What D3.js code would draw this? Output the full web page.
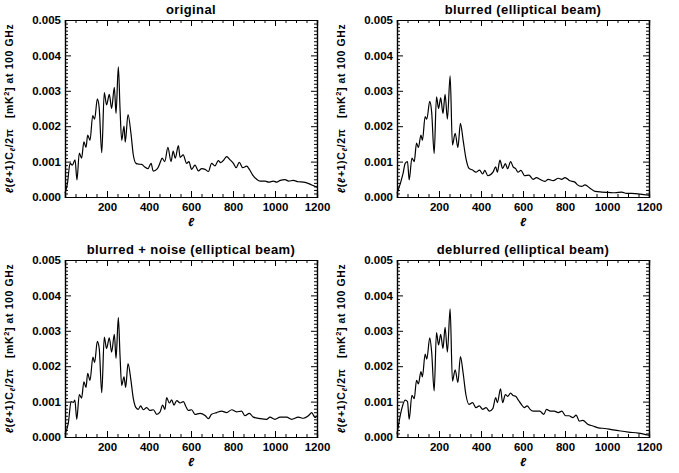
<!DOCTYPE html>
<html>
<head>
<meta charset="utf-8">
<script src="https://cdn.jsdelivr.net/npm/d3@7"></script>
<style>
  body { margin: 0; background: #fff; }
  text { font-family: "Liberation Sans", Arial, sans-serif; font-weight: bold; fill: #000; }
</style>
</head>
<body>
<div id="chart"></div>
<script>
// panel titles
var titles = ['original', 'blurred (elliptical beam)', 'blurred + noise (elliptical beam)', 'deblurred (elliptical beam)'];

// original spectrum
var ellOriginal = [0, 12, 24, 35, 48, 57, 68, 79, 90, 100, 108, 119, 132, 141, 154, 163, 175, 187, 198, 211, 222, 235, 243, 254, 262, 270, 281, 287, 300, 314, 325, 338, 350, 365, 380, 395, 410, 420, 440, 455, 462, 475, 490, 505, 515, 525, 540, 548, 563, 579, 590, 603, 619, 635, 651, 667, 683, 698, 714, 730, 741, 754, 770, 786, 802, 815, 830, 846, 865, 878, 894, 913, 929, 953, 970, 992, 1008, 1025, 1048, 1065, 1087, 1111, 1135, 1151, 1175, 1200];
var clOriginal = [0.0001, 0.0004, 0.00095, 0.0009, 0.00105, 0.00048, 0.00124, 0.0011, 0.00156, 0.0014, 0.00175, 0.0016, 0.0023, 0.0022, 0.00277, 0.0025, 0.00125, 0.00295, 0.0026, 0.0029, 0.0025, 0.0031, 0.00236, 0.00368, 0.0025, 0.0016, 0.002, 0.00155, 0.00233, 0.0018, 0.0012, 0.00095, 0.00093, 0.00092, 0.00085, 0.0008, 0.00095, 0.00073, 0.0008, 0.001, 0.0011, 0.001, 0.0014, 0.001, 0.0013, 0.0011, 0.00145, 0.00112, 0.00119, 0.00095, 0.001, 0.00078, 0.0009, 0.00074, 0.0008, 0.00078, 0.00072, 0.00095, 0.00088, 0.00103, 0.00097, 0.00103, 0.00114, 0.00105, 0.00095, 0.00083, 0.00098, 0.00083, 0.00087, 0.00078, 0.00062, 0.0005, 0.00045, 0.00045, 0.00042, 0.00045, 0.00042, 0.00047, 0.00049, 0.00045, 0.00047, 0.00043, 0.00042, 0.0004, 0.00034, 0.00028];

// blurred spectrum
var ellBlurred = [0, 29, 39, 50, 58, 71, 82, 93, 102, 114, 121, 134, 142, 156, 165, 177, 188, 198, 208, 219, 229, 240, 253, 264, 277, 290, 302, 315, 328, 343, 360, 376, 393, 408, 418, 433, 457, 470, 478, 490, 503, 516, 527, 541, 553, 565, 576, 590, 608, 628, 648, 664, 680, 704, 720, 744, 768, 784, 800, 823, 847, 858, 879, 895, 919, 943, 975, 1006, 1038, 1070, 1093, 1118, 1158, 1200];
var clBlurred = [0.0001, 0.00067, 0.00095, 0.001, 0.00048, 0.0011, 0.001, 0.00152, 0.0014, 0.00175, 0.0016, 0.00227, 0.0022, 0.0027, 0.0024, 0.00123, 0.00283, 0.0025, 0.0028, 0.00236, 0.0029, 0.0022, 0.00342, 0.00147, 0.0018, 0.0014, 0.00208, 0.0016, 0.0011, 0.00081, 0.00076, 0.0007, 0.00076, 0.00065, 0.00075, 0.0006, 0.0007, 0.00085, 0.0007, 0.00104, 0.00081, 0.00094, 0.0008, 0.001, 0.00085, 0.0008, 0.0007, 0.00075, 0.0006, 0.00062, 0.0005, 0.00055, 0.0005, 0.00044, 0.0005, 0.00046, 0.00053, 0.0005, 0.00055, 0.00046, 0.00042, 0.00035, 0.0003, 0.00034, 0.00025, 0.00016, 0.00014, 0.00013, 0.00012, 0.00014, 0.0001, 0.0001, 0.00008, 0.00005];

// blurred + noise spectrum
var ellNoisy = [0, 16, 29, 40, 47, 56, 68, 79, 90, 100, 108, 119, 133, 141, 154, 163, 175, 187, 198, 211, 222, 235, 243, 254, 262, 270, 281, 289, 300, 314, 325, 338, 349, 360, 373, 389, 405, 421, 437, 452, 465, 476, 484, 497, 508, 519, 532, 548, 564, 575, 587, 603, 619, 643, 667, 683, 698, 722, 746, 770, 794, 817, 841, 857, 878, 897, 929, 960, 976, 1000, 1024, 1056, 1079, 1111, 1135, 1159, 1175, 1190, 1200];
var clNoisy = [0.00008, 0.0004, 0.001, 0.00098, 0.00104, 0.0005, 0.0012, 0.0011, 0.00156, 0.0014, 0.0018, 0.0016, 0.00226, 0.0021, 0.0027, 0.0025, 0.00125, 0.00282, 0.0025, 0.0028, 0.0024, 0.0029, 0.00222, 0.00337, 0.0023, 0.00146, 0.0017, 0.0014, 0.00207, 0.0016, 0.0011, 0.00083, 0.00078, 0.00088, 0.00077, 0.00083, 0.00075, 0.00077, 0.00064, 0.0007, 0.0009, 0.00078, 0.00111, 0.00096, 0.00105, 0.0009, 0.00103, 0.00096, 0.001, 0.00087, 0.00075, 0.00077, 0.00064, 0.00067, 0.00061, 0.00052, 0.00064, 0.00069, 0.00073, 0.00069, 0.00077, 0.00071, 0.00073, 0.0006, 0.00067, 0.00056, 0.00052, 0.0005, 0.00056, 0.0005, 0.00056, 0.00056, 0.0005, 0.00056, 0.00053, 0.0006, 0.00069, 0.00055, 0.0006];

// deblurred spectrum
var ellDeblurred = [0, 22, 39, 50, 58, 71, 82, 93, 102, 114, 121, 134, 142, 156, 165, 177, 188, 198, 208, 219, 229, 240, 253, 264, 277, 290, 302, 315, 328, 343, 360, 376, 392, 408, 424, 440, 456, 470, 478, 493, 503, 516, 527, 541, 553, 565, 578, 592, 606, 620, 634, 648, 680, 699, 712, 730, 749, 768, 785, 803, 819, 838, 853, 868, 885, 908, 933, 958, 989, 1021, 1054, 1102, 1149, 1200];
var clDeblurred = [0.00008, 0.00078, 0.00104, 0.001, 0.0005, 0.00118, 0.00108, 0.0016, 0.0015, 0.00185, 0.0017, 0.00234, 0.0022, 0.0028, 0.0024, 0.0013, 0.00295, 0.0026, 0.0029, 0.0025, 0.0031, 0.0024, 0.00362, 0.00158, 0.0019, 0.00154, 0.00227, 0.0018, 0.0012, 0.00092, 0.00097, 0.00083, 0.00088, 0.00078, 0.00083, 0.00073, 0.0008, 0.00111, 0.00097, 0.00136, 0.00097, 0.0012, 0.00115, 0.00124, 0.00117, 0.00115, 0.00104, 0.00092, 0.00083, 0.00088, 0.00078, 0.00073, 0.00073, 0.00064, 0.00078, 0.00073, 0.00073, 0.00069, 0.00073, 0.0006, 0.0006, 0.00055, 0.00062, 0.00045, 0.00047, 0.00036, 0.00031, 0.00026, 0.00024, 0.00021, 0.00018, 0.00014, 0.00011, 0.00005];

// tick values
var xMajorTicks = [200, 400, 600, 800, 1000, 1200];
var yMajorTicks = [0, 0.001, 0.002, 0.003, 0.004, 0.005];

var svgWidth = 679;
var svgHeight = 473;

// plot box size
var width = 252;
var height = 177;

var svg = d3.select('#chart')
  .append('svg')
  .attr('width', svgWidth)
  .attr('height', svgHeight);

var panels = [
  { title: titles[0], ell: ellOriginal, cl: clOriginal, left: 65, top: 20 },
  { title: titles[1], ell: ellBlurred, cl: clBlurred, left: 397, top: 20 },
  { title: titles[2], ell: ellNoisy, cl: clNoisy, left: 65, top: 260 },
  { title: titles[3], ell: ellDeblurred, cl: clDeblurred, left: 397, top: 260 }
];

var xScale = d3.scaleLinear().domain([0, 1200]).range([0, width]);
var yScale = d3.scaleLinear().domain([0, 0.005]).range([height, 0]);

// minor ticks
var xMinorTicks = d3.range(50, 1200, 50).filter(function (d) { return d % 200 !== 0; });
var yMinorTicks = d3.range(1, 50).filter(function (d) { return d % 10 !== 0; }).map(function (d) { return d / 10000; });

panels.forEach(function (p) {
  var g = svg.append('g').attr('transform', 'translate(' + p.left + ',' + p.top + ')');

  // title
  g.append('text')
    .attr('x', width / 2)
    .attr('y', -6)
    .attr('text-anchor', 'middle')
    .style('font-size', '13px')
    .style('letter-spacing', '0.4px')
    .text(p.title);

  // axes on four sides, ticks inward
  g.append('g').attr('transform', 'translate(0,' + height + ')')
    .call(d3.axisBottom(xScale).tickValues(xMajorTicks).tickSize(-6).tickPadding(6).tickFormat(d3.format('d')));
  g.append('g').attr('transform', 'translate(0,' + height + ')')
    .call(d3.axisBottom(xScale).tickValues(xMinorTicks).tickSize(-3).tickFormat(''));
  g.append('g')
    .call(d3.axisTop(xScale).tickValues(xMajorTicks).tickSize(-6).tickFormat(''));
  g.append('g')
    .call(d3.axisTop(xScale).tickValues(xMinorTicks).tickSize(-3).tickFormat(''));

  g.append('g')
    .call(d3.axisLeft(yScale).tickValues(yMajorTicks).tickSize(-6).tickPadding(4).tickFormat(d3.format('.3f')));
  g.append('g')
    .call(d3.axisLeft(yScale).tickValues(yMinorTicks).tickSize(-3).tickFormat(''));
  g.append('g').attr('transform', 'translate(' + width + ',0)')
    .call(d3.axisRight(yScale).tickValues(yMajorTicks).tickSize(-6).tickFormat(''));
  g.append('g').attr('transform', 'translate(' + width + ',0)')
    .call(d3.axisRight(yScale).tickValues(yMinorTicks).tickSize(-3).tickFormat(''));

  g.selectAll('.domain').attr('stroke', '#000').attr('stroke-width', 1.2);
  g.selectAll('.tick line').attr('stroke', '#000');
  g.selectAll('.tick text')
    .style('font-size', '11.5px')
    .style('font-family', '"Liberation Sans", Arial, sans-serif')
    .style('font-weight', 'bold');

  // x label
  g.append('text')
    .attr('x', width / 2)
    .attr('y', height + 29)
    .attr('text-anchor', 'middle')
    .style('font-size', '12px')
    .style('font-style', 'italic')
    .text('\u2113');

  // y label
  var yl = g.append('text')
    .attr('transform', 'translate(' + (-52) + ',' + (height / 2) + ') rotate(-90)')
    .attr('text-anchor', 'middle')
    .style('font-size', '10.5px')
    .style('letter-spacing', '0.6px');
  yl.append('tspan').style('font-style', 'italic').text('\u2113');
  yl.append('tspan').text('(');
  yl.append('tspan').style('font-style', 'italic').text('\u2113');
  yl.append('tspan').text('+1)C');
  yl.append('tspan').attr('dy', 2).style('font-size', '7.5px').style('font-style', 'italic').text('\u2113');
  yl.append('tspan').attr('dy', -2).text('/2\u03c0\u00a0\u00a0\u00a0[mK');
  yl.append('tspan').attr('dy', -4).style('font-size', '7.5px').text('2');
  yl.append('tspan').attr('dy', 4).text('] at 100 GHz');

  // spectrum line
  var pts = p.ell.map(function (d, i) { return [d, p.cl[i]]; });
  var line = d3.line()
    .x(function (d) { return xScale(d[0]); })
    .y(function (d) { return yScale(d[1]); })
    .curve(d3.curveMonotoneX);

  g.append('path')
    .datum(pts)
    .attr('fill', 'none')
    .attr('stroke', '#000')
    .attr('stroke-width', 1.2)
    .attr('d', line);
});
</script>
</body>
</html>
